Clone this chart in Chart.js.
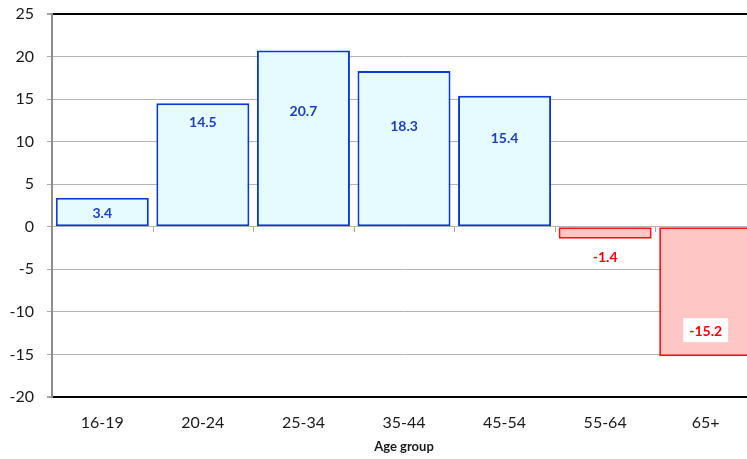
<!DOCTYPE html>
<html>
<head>
<meta charset="utf-8">
<script src="https://cdn.jsdelivr.net/npm/chart.js@4/dist/chart.umd.min.js"></script>
<style>
  html, body { margin: 0; padding: 0; background: #ffffff; overflow: hidden; }
  #wrap { position: absolute; left: 0; top: 0; width: 756px; height: 459px; }
</style>
</head>
<body>
<div id="wrap"><canvas id="chart"></canvas></div>
<script>
// Age groups along the category axis
const ageGroups = ['16-19', '20-24', '25-34', '35-44', '45-54', '55-64', '65+'];
// Change per age group
const changeValues = [3.4, 14.5, 20.7, 18.3, 15.4, -1.4, -15.2];
// Value axis tick range
const yMin = -20;
const yMax = 25;
const yStep = 5;

// Pixel distance of each value label from the end of its bar (positive = towards zero)
const labelInset = [15, 18, 60, 54, 42, -18, 26];

const POS_FILL = '#e6fbff', POS_LINE = '#0a3ad8', POS_TEXT = '#1a3fc8';
const NEG_FILL = '#ffc6c6', NEG_LINE = '#ff1414', NEG_TEXT = '#ff0000';

const valueLabels = {
  id: 'valueLabels',
  afterDatasetsDraw(chart) {
    const ctx = chart.ctx;
    const meta = chart.getDatasetMeta(0);
    ctx.save();
    ctx.font = 'bold 14px Lato';
    ctx.textAlign = 'center';
    ctx.textBaseline = 'middle';
    meta.data.forEach((bar, i) => {
      const v = changeValues[i];
      const dir = v >= 0 ? 1 : -1;
      const y = bar.y + dir * labelInset[i];
      const txt = v.toFixed(1);
      if (v < 0) {
        const w = ctx.measureText(txt).width + 12;
        ctx.fillStyle = '#ffffff';
        ctx.fillRect(bar.x - w / 2, y - 12, w, 24);
      }
      ctx.fillStyle = v >= 0 ? POS_TEXT : NEG_TEXT;
      ctx.fillText(txt, bar.x, y + 1);
    });
    ctx.restore();
  }
};

// Small category tick marks hanging below the zero line
const zeroTicks = {
  id: 'zeroTicks',
  beforeDatasetsDraw(chart) {
    const { ctx, chartArea, scales } = chart;
    const y0 = Math.round(scales.y.getPixelForValue(0));
    const step = (chartArea.right - chartArea.left) / ageGroups.length;
    ctx.save();
    ctx.strokeStyle = '#a6a6a6';
    ctx.lineWidth = 1;
    for (let i = 1; i < ageGroups.length; i++) {
      const x = Math.round(chartArea.left + step * i) + 0.5;
      ctx.beginPath();
      ctx.moveTo(x, y0);
      ctx.lineTo(x, y0 + 5);
      ctx.stroke();
    }
    ctx.restore();
  }
};

new Chart(document.getElementById('chart'), {
  type: 'bar',
  data: {
    labels: ageGroups,
    datasets: [{
      data: changeValues,
      backgroundColor: changeValues.map(v => v >= 0 ? POS_FILL : NEG_FILL),
      borderColor: changeValues.map(v => v >= 0 ? POS_LINE : NEG_LINE),
      borderWidth: 2,
      borderSkipped: false,
      barPercentage: 0.925,
      categoryPercentage: 1.0
    }]
  },
  options: {
    responsive: true,
    maintainAspectRatio: false,
    animation: false,
    layout: { padding: { top: 14, right: 0, bottom: 0, left: 0 } },
    plugins: {
      legend: { display: false },
      tooltip: { enabled: false }
    },
    scales: {
      x: {
        grid: { display: false, drawTicks: false },
        border: { display: false },
        ticks: {
          color: '#1a1a1a',
          font: { family: 'Lato', size: 16 },
          padding: 16,
          maxRotation: 0
        },
        title: {
          display: true,
          text: 'Age group',
          color: '#1a1a1a',
          font: { family: 'Lato', size: 13, weight: 'bold' },
          padding: { top: 0, bottom: 4 }
        },
        afterFit(scale) { scale.height = 62; scale.paddingLeft = 0; scale.paddingRight = 0; }
      },
      y: {
        min: yMin,
        max: yMax,
        ticks: {
          stepSize: yStep,
          color: '#1a1a1a',
          font: { family: 'Lato', size: 16 },
          padding: 13
        },
        grid: {
          color: c => (c.tick && (c.tick.value === yMax || c.tick.value === yMin)) ? '#000000' : '#b4b4b4',
          lineWidth: c => (c.tick && (c.tick.value === yMax || c.tick.value === yMin)) ? 2 : 1,
          tickColor: '#a6a6a6',
          tickLength: 5,
          drawTicks: true
        },
        border: { display: true, color: '#8c8c8c', width: 2 },
        afterFit(scale) { scale.width = 52; scale.paddingTop = 0; scale.paddingBottom = 0; }
      }
    }
  },
  plugins: [zeroTicks, valueLabels]
});
</script>
</body>
</html>
